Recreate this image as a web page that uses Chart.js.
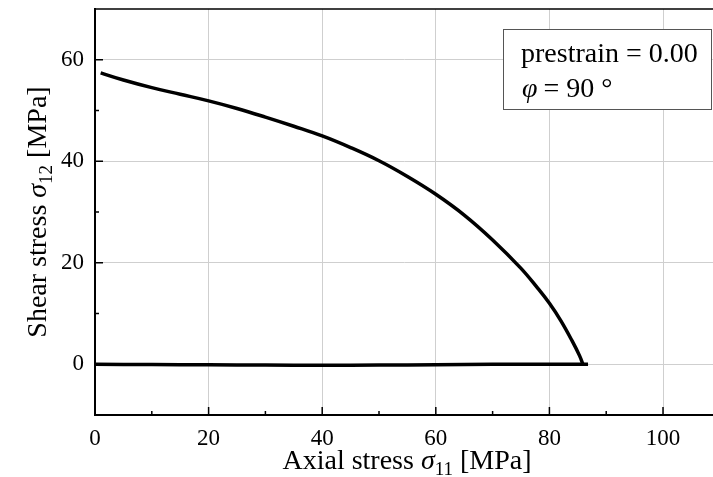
<!DOCTYPE html>
<html>
<head>
<meta charset="utf-8">
<script src="https://cdn.jsdelivr.net/npm/chart.js@4/dist/chart.umd.min.js"></script>
<style>
  html, body { margin: 0; padding: 0; background: #fff; }
  #wrap { width: 713px; height: 477px; }
</style>
</head>
<body>
<div id="wrap"><canvas id="stressChart" width="713" height="477"></canvas></div>
<script>
// axial stress sigma_11 [MPa] and shear stress sigma_12 [MPa]
// loading branch (shear ~ 0)
const axialLoad = [0, 10, 20, 30, 40, 50, 60, 70, 80, 86.8];
const shearLoad = [0, -0.05, -0.1, -0.15, -0.2, -0.15, -0.1, 0, 0, 0];
// failure branch (sorted by axial stress)
const axialCurve = [1, 5, 10, 15, 20, 25, 30, 35, 40, 45, 50, 55, 60,
    65, 70, 75, 78, 80, 82, 84, 85.3, 85.9];
const shearCurve = [57.4, 56.0, 54.5, 53.2, 51.9, 50.4, 48.7, 46.9, 45.0, 42.7, 40.1, 37.0, 33.5,
    29.4, 24.5, 18.9, 14.9, 12.0, 8.6, 4.6, 1.7, 0];

const xMajor = [0, 20, 40, 60, 80, 100];
const xMinor = [10, 30, 50, 70, 90];
const yMajor = [0, 20, 40, 60];
const yMinor = [-10, 10, 30, 50];

const infoLines = ['prestrain = 0.00', '= 90 °'];

const serif = '"Liberation Serif", "Times New Roman", serif';

const loadPoints = axialLoad.map((x, i) => ({ x: x, y: shearLoad[i] }));
const curvePoints = axialCurve.map((x, i) => ({ x: x, y: shearCurve[i] }));

// draw text made of pieces (for sigma with subscript)
function richText(ctx, parts, cx, cy) {
    let total = 0;
    parts.forEach(p => { ctx.font = p.font; total += ctx.measureText(p.t).width; });
    let x = cx - total / 2;
    ctx.textBaseline = 'alphabetic';
    ctx.textAlign = 'left';
    parts.forEach(p => {
        ctx.font = p.font;
        ctx.fillText(p.t, x, cy + (p.dy || 0));
        x += ctx.measureText(p.t).width;
    });
}

function titleParts(sub, word) {
    return [
        { t: word + ' stress ', font: '28px ' + serif },
        { t: 'σ', font: 'italic 28px ' + serif },
        { t: sub, font: '19px ' + serif, dy: 6 },
        { t: ' [MPa]', font: '28px ' + serif }
    ];
}

const decorations = {
    id: 'decorations',
    afterDraw(chart) {
        const ctx = chart.ctx;
        const area = chart.chartArea;
        const xs = chart.scales.x, ys = chart.scales.y;
        ctx.save();
        ctx.strokeStyle = '#000';
        // top frame line
        ctx.lineWidth = 1.5;
        ctx.beginPath();
        ctx.moveTo(area.left, area.top);
        ctx.lineTo(area.right, area.top);
        ctx.stroke();
        // inward ticks
        ctx.lineWidth = 1.5;
        ctx.beginPath();
        xMajor.forEach(v => { const p = xs.getPixelForValue(v); ctx.moveTo(p, area.bottom); ctx.lineTo(p, area.bottom - 8); });
        xMinor.forEach(v => { const p = xs.getPixelForValue(v); ctx.moveTo(p, area.bottom); ctx.lineTo(p, area.bottom - 4); });
        yMajor.forEach(v => { const p = ys.getPixelForValue(v); ctx.moveTo(area.left, p); ctx.lineTo(area.left + 8, p); });
        yMinor.forEach(v => { const p = ys.getPixelForValue(v); ctx.moveTo(area.left, p); ctx.lineTo(area.left + 4, p); });
        ctx.stroke();

        // info box
        ctx.fillStyle = '#fff';
        ctx.fillRect(503.5, 29.5, 208, 80);
        ctx.strokeStyle = '#555';
        ctx.lineWidth = 1;
        ctx.strokeRect(503.5, 29.5, 208, 80);
        ctx.fillStyle = '#000';
        ctx.textAlign = 'left';
        ctx.textBaseline = 'alphabetic';
        ctx.font = '28px ' + serif;
        ctx.fillText(infoLines[0], 521, 62);
        ctx.font = 'italic 28px ' + serif;
        ctx.fillText('φ', 522, 97);
        const w = ctx.measureText('φ').width;
        ctx.font = '28px ' + serif;
        ctx.fillText(infoLines[1], 522 + w + 6, 97);

        // axis titles
        richText(ctx, titleParts('11', 'Axial'), 407, 469);
        ctx.translate(46, (area.top + area.bottom) / 2);
        ctx.rotate(-Math.PI / 2);
        richText(ctx, titleParts('12', 'Shear'), 0, 0);
        ctx.restore();
    }
};

const lineStyle = {
    showLine: true,
    borderColor: '#000',
    borderWidth: 3.5,
    pointRadius: 0,
    tension: 0.4,
    fill: false
};

const ctx = document.getElementById('stressChart').getContext('2d');
new Chart(ctx, {
    type: 'scatter',
    data: {
        datasets: [
            Object.assign({ data: loadPoints }, lineStyle),
            Object.assign({ data: curvePoints }, lineStyle)
        ]
    },
    options: {
        responsive: false,
        animation: false,
        layout: { padding: { top: 9, right: 0, left: 0, bottom: 0 } },
        plugins: {
            legend: { display: false },
            tooltip: { enabled: false }
        },
        scales: {
            x: {
                type: 'linear',
                min: 0,
                max: 108.8,
                afterBuildTicks: s => { s.ticks = xMajor.map(v => ({ value: v })); },
                afterFit: s => { s.height = 62; s.paddingLeft = 0; s.paddingRight = 0; },
                grid: { color: '#cfcfcf', lineWidth: 1, drawTicks: false },
                border: { color: '#000', width: 2 },
                ticks: { color: '#000', padding: 10, font: { family: serif, size: 23 } }
            },
            y: {
                type: 'linear',
                min: -10,
                max: 70,
                afterBuildTicks: s => { s.ticks = yMajor.map(v => ({ value: v })); },
                afterFit: s => { s.width = 95; s.paddingTop = 0; s.paddingBottom = 0; },
                grid: { color: '#cfcfcf', lineWidth: 1, drawTicks: false },
                border: { color: '#000', width: 2 },
                ticks: { color: '#000', padding: 11, font: { family: serif, size: 23 } }
            }
        }
    },
    plugins: [decorations]
});
</script>
</body>
</html>
